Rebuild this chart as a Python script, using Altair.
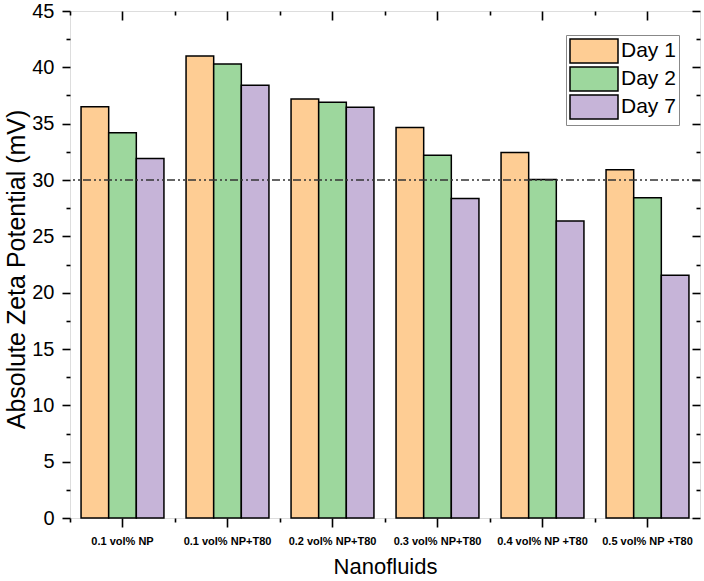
import altair as alt
import pandas as pd

categories = ["0.1 vol% NP", "0.1 vol% NP+T80", "0.2 vol% NP+T80",
              "0.3 vol% NP+T80", "0.4 vol% NP +T80", "0.5 vol% NP +T80"]
days = ["Day 1", "Day 2", "Day 7"]
day1 = [36.5, 41.0, 37.2, 34.65, 32.45, 30.9]
day2 = [34.2, 40.3, 36.9, 32.2, 30.05, 28.42]
day7 = [31.9, 38.4, 36.45, 28.35, 26.35, 21.55]
ref_line = [30]
y_major = [0, 5, 10, 15, 20, 25, 30, 35, 40, 45]
y_minor = [2.5, 7.5, 12.5, 17.5, 22.5, 27.5, 32.5, 37.5, 42.5]
colors = ["#FECD94", "#9DD79D", "#C6B4D8"]

rows = []
for c, a, b, d in zip(categories, day1, day2, day7):
    rows.append({"cat": c, "Day": "Day 1", "val": a})
    rows.append({"cat": c, "Day": "Day 2", "val": b})
    rows.append({"cat": c, "Day": "Day 7", "val": d})
df = pd.DataFrame(rows)

FONT = "Liberation Sans"
xscale = alt.Scale(domain=categories, paddingInner=0, paddingOuter=0)
yscale = alt.Scale(domain=[0, 45], nice=False)

def blank_axis(orient, size, offset=0, values=None, band=None):
    kw = dict(orient=orient, tickSize=size, offset=offset, labels=False,
              domain=False, grid=False, title=None, tickColor="black", tickWidth=1.6)
    if values is not None:
        kw["values"] = values
    if band is not None:
        kw["bandPosition"] = band
    return alt.Axis(**kw)

base = alt.Chart(df)

bars = base.mark_bar(stroke="black", strokeWidth=1.5, opacity=1).encode(
    x=alt.X("cat:N", sort=categories, scale=xscale,
            axis=alt.Axis(orient="bottom", title="Nanofluids", tickSize=9, tickWidth=1.6,
                          tickColor="black", domain=False, grid=False, labelAngle=0,
                          labelFont=FONT, labelFontSize=11, labelFontWeight="bold",
                          labelColor="black", labelPadding=8,
                          titleFont=FONT, titleFontSize=22, titleFontWeight="normal",
                          titleColor="black", titlePadding=10)),
    xOffset=alt.XOffset("Day:N", sort=days, scale=alt.Scale(paddingOuter=0.4, paddingInner=0)),
    y=alt.Y("val:Q", scale=yscale,
            axis=alt.Axis(orient="left", values=y_major, tickSize=8, tickWidth=1.6,
                          tickColor="black", domain=False, grid=False,
                          labelFont=FONT, labelFontSize=20, labelColor="black", labelPadding=8,
                          title="Absolute Zeta Potential (mV)",
                          titleFont=FONT, titleFontSize=25, titleFontWeight="normal",
                          titleColor="black", titlePadding=2, titleY=258)),
    color=alt.Color("Day:N", sort=days, scale=alt.Scale(domain=days, range=colors),
                    legend=alt.Legend(orient="none", legendX=496, legendY=24, title=None,
                                      symbolType="M-1,-1H3V1H-1Z", symbolSize=576,
                                      symbolStrokeColor="black", symbolStrokeWidth=1.5,
                                      symbolOpacity=1,
                                      labelFont=FONT, labelFontSize=21, labelColor="black",
                                      labelOffset=26, rowPadding=-3, padding=3,
                                      strokeColor="#888888", fillColor="white")),
)

def ghost(xaxis, yaxis):
    return base.mark_point(opacity=0).encode(
        x=alt.X("cat:N", sort=categories, scale=xscale, axis=xaxis),
        y=alt.Y("val:Q", scale=yscale, axis=yaxis),
    )

g1 = ghost(blank_axis("bottom", 4, 0, band=0), blank_axis("left", 4, 0, values=y_minor))
g2 = ghost(blank_axis("top", 9, -9), blank_axis("right", 8, -8, values=y_major))
g3 = ghost(blank_axis("top", 4, -4, band=0), blank_axis("right", 4, -4, values=y_minor))

rule = alt.Chart(pd.DataFrame({"t": ref_line})).mark_rule(
    color="#333333", strokeWidth=1.5, strokeDash=[8, 3, 2, 3, 2, 3]
).encode(y=alt.Y("t:Q", scale=yscale, axis=None))

chart = alt.layer(bars, g1, g2, g3, rule).resolve_axis(
    x="independent", y="independent"
).properties(
    width=630, height=507,
    autosize=alt.AutoSizeParams(type="none"),
    padding={"left": 70, "top": 11, "right": 4, "bottom": 63},
).configure_view(stroke="black", strokeWidth=2).configure(background="white")

chart.save("out.html", embed_options={"renderer": "svg", "actions": False})
